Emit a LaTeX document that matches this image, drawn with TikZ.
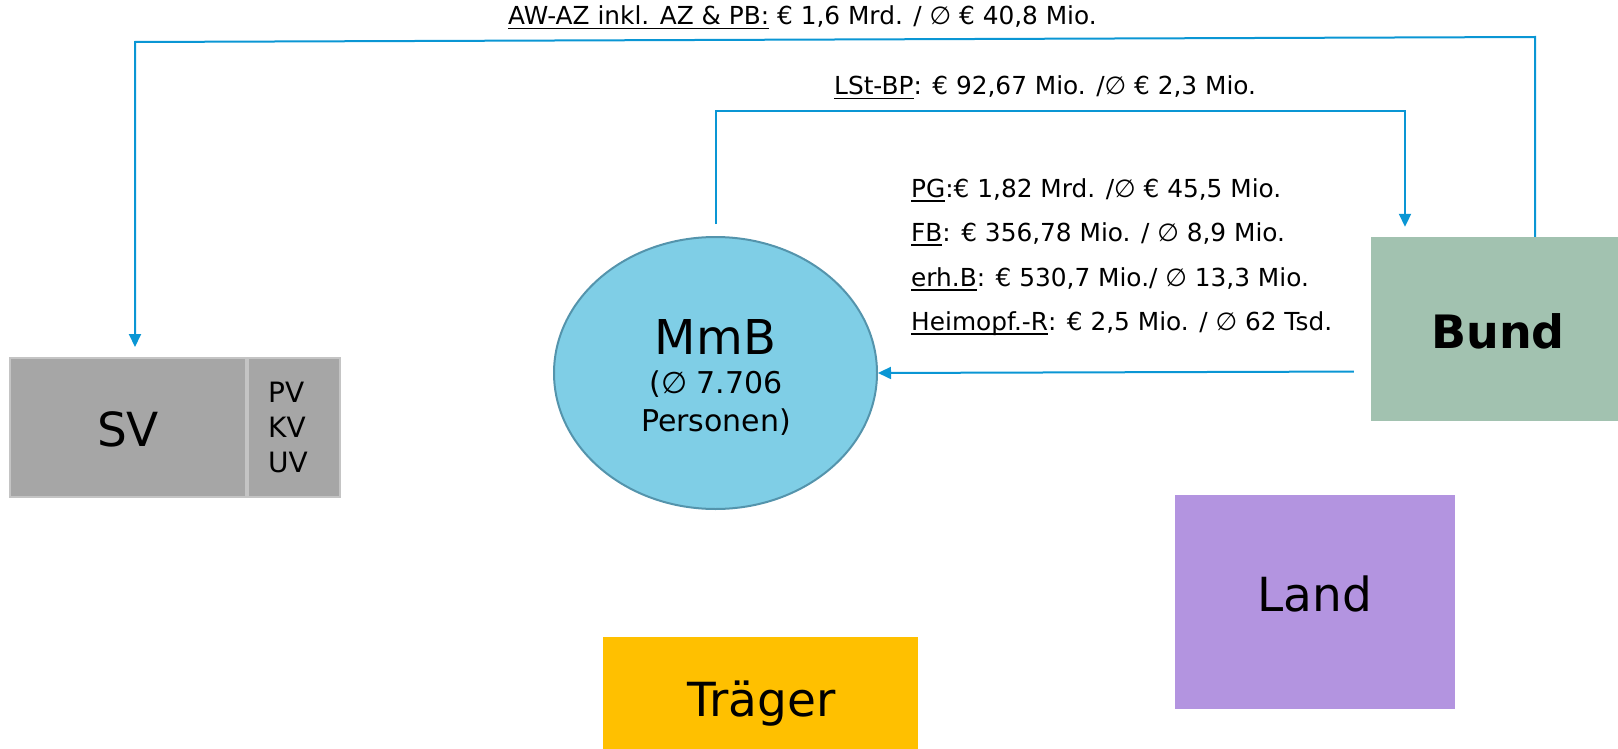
\documentclass[tikz,border=0pt]{standalone}
\usepackage{fontspec}
\setmainfont{DejaVu Sans}
\usetikzlibrary{shapes.geometric,arrows.meta}
\definecolor{flowc}{RGB}{10,150,212}
\definecolor{svfill}{RGB}{166,166,166}
\definecolor{svline}{RGB}{196,196,196}
\definecolor{mmbfill}{RGB}{127,206,230}
\definecolor{mmbline}{RGB}{84,148,172}
\definecolor{bundfill}{RGB}{162,194,176}
\definecolor{landfill}{RGB}{179,148,224}
\definecolor{traegerfill}{RGB}{255,192,0}
\newcommand\myul[1]{\setbox0\hbox{#1}\rlap{\rule[-4.5pt]{\wd0}{1.6pt}}\box0\relax}
\begin{document}
\begin{tikzpicture}[x=1pt,y=-1pt,
  lbl/.style={anchor=base west,inner sep=0pt,font=\fontsize{24.8}{30}\selectfont},
  big/.style={anchor=base,inner sep=0pt,font=\fontsize{47}{56}\selectfont},
  mid/.style={anchor=base,inner sep=0pt,font=\fontsize{30}{36}\selectfont},
  small/.style={anchor=base west,inner sep=0pt,font=\fontsize{28}{34}\selectfont},
  flowline/.style={draw=flowc,line width=2pt},
  tip/.style={-{Triangle[length=13pt,width=12pt]}},
  boxnode/.style={rectangle,inner sep=0pt,draw=none}]
\useasboundingbox (0,0) rectangle (1618,749);
% boxes
\node[boxnode,fill=svfill,draw=svline,line width=2pt,minimum width=236pt,minimum height=139pt] (SV) at (127.5,427.5) {};
\node[boxnode,fill=svfill,draw=svline,line width=2pt,minimum width=92pt,minimum height=139pt] (PV) at (293.6,427.5) {};
\node[ellipse,fill=mmbfill,draw=mmbline,line width=2pt,minimum width=323pt,minimum height=272pt,inner sep=0pt] (MmB) at (715.5,373) {};
\node[boxnode,fill=bundfill,minimum width=247pt,minimum height=184pt] (Bund) at (1494.5,329) {};
\node[boxnode,fill=landfill,minimum width=280pt,minimum height=214pt] (Land) at (1315,602) {};
\node[boxnode,fill=traegerfill,minimum width=315pt,minimum height=130pt] (Traeger) at (760.5,702) {};
% texts in shapes
\node[big] (SVt) at (128,446) {SV};
\node[small] (PVt) at (268,402.5) {PV};
\node[small] (KVt) at (268,437.5) {KV};
\node[small] (UVt) at (268,472.6) {UV};
\node[big,font=\fontsize{48}{56}\selectfont] (MmBt) at (715.5,354) {MmB};
\node[mid] (MmB2) at (716,393) {(∅ 7.706};
\node[mid] (MmB3) at (716,431) {Personen)};
\node[big,font=\fontsize{46}{56}\selectfont\bfseries] (Bundt) at (1498,348) {Bund};
\node[big] (Landt) at (1315,611) {Land};
\node[big] (Traegert) at (761.5,716) {Träger};
% connectors
\coordinate (tr) at (1535,37);
\coordinate (tl) at (135,42);
\draw[flowline,tip,shorten >=10pt] (Bund.north -| tr) -- (tr) -- (tl) -- (SV.north -| tl);
\coordinate (lr) at (1405,111.5);
\draw[flowline,tip,shorten <=12pt,shorten >=10pt] (MmB.north) |- (lr) -- (Bund.north -| lr);
\coordinate (bm) at (0,371.5);
\draw[flowline,tip,shorten <=17pt] (Bund.west |- bm) -- (MmB.east);
% labels
\node[lbl] (lab1) at (508,25) {\myul{AW-AZ inkl. AZ \& PB:} € 1,6 Mrd. / ∅ € 40,8 Mio.};
\node[lbl] (lab2) at (834,95) {\myul{LSt-BP}: € 92,67 Mio. /∅ € 2,3 Mio.};
\node[lbl] (lab3) at (911,197) {\myul{PG}:€ 1,82 Mrd. /∅ € 45,5 Mio.};
\node[lbl] (lab4) at (911,241.5) {\myul{FB}: € 356,78 Mio. / ∅ 8,9 Mio.};
\node[lbl] (lab5) at (911,286) {\myul{erh.B}: € 530,7 Mio./ ∅ 13,3 Mio.};
\node[lbl] (lab6) at (911,330) {\myul{Heimopf.-R}: € 2,5 Mio. / ∅ 62 Tsd.};
\end{tikzpicture}
\end{document}
